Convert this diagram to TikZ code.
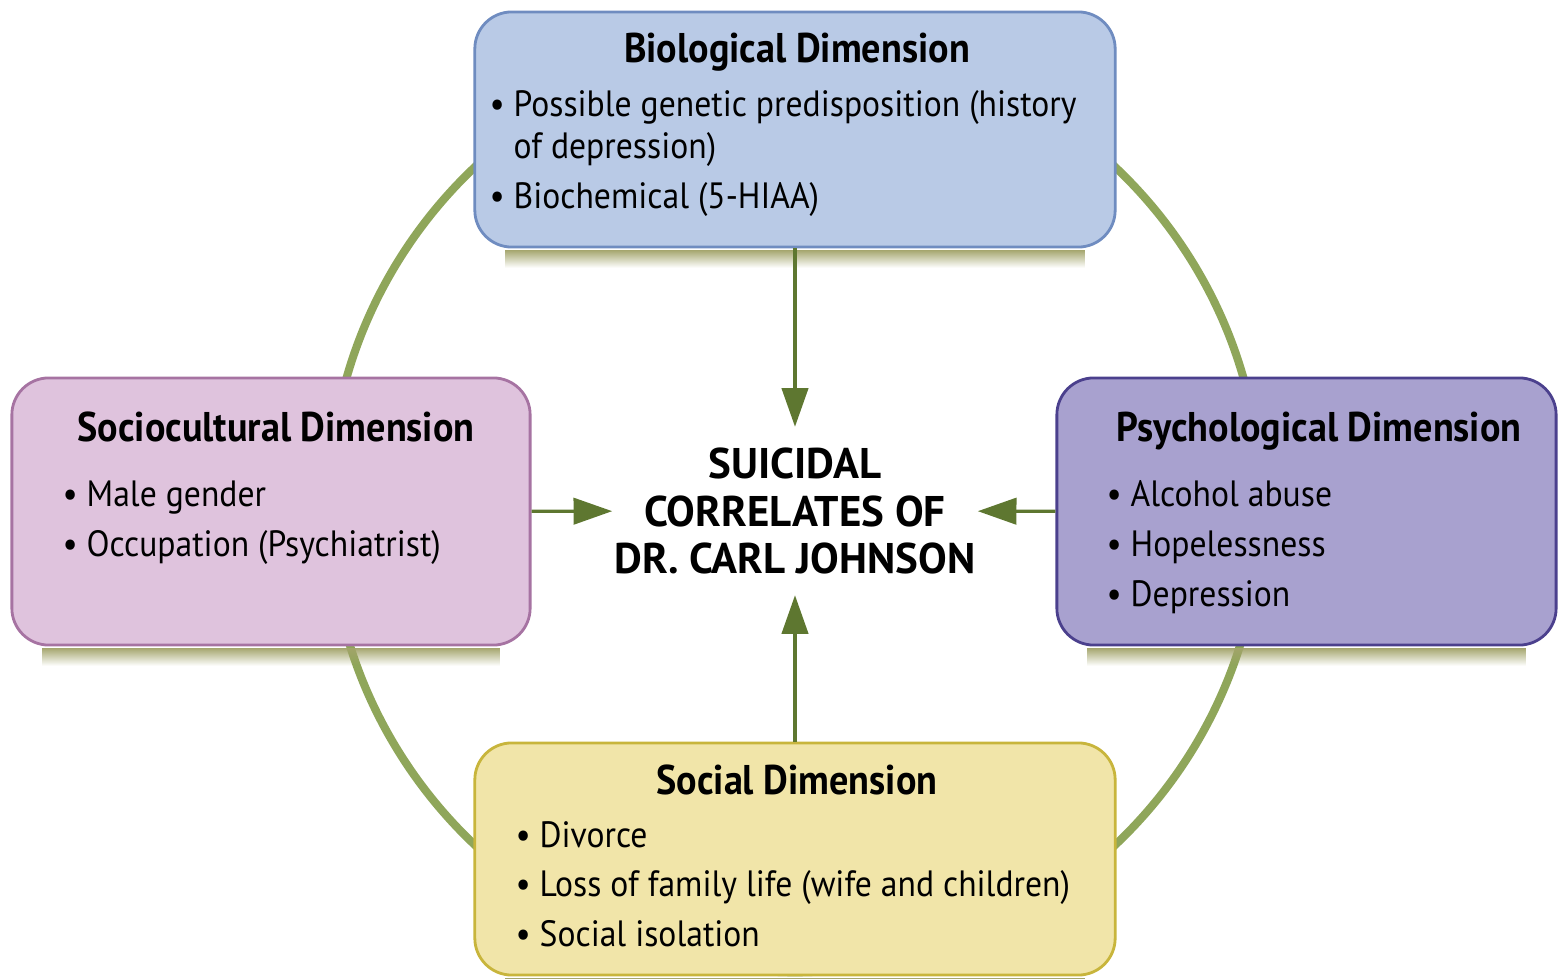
\documentclass[tikz,border=0pt]{standalone}
\usepackage{fontspec}
\setmainfont{PT Sans}[FakeStretch=0.92]
\newfontfamily\corefont{PT Sans}
\usetikzlibrary{arrows.meta,fadings}

\definecolor{ringgreen}{HTML}{8FA65A}
\definecolor{arrowgreen}{HTML}{5E7730}
\definecolor{shadegreen}{HTML}{A2A46A}
\definecolor{biofill}{HTML}{B9CAE6}
\definecolor{bioline}{HTML}{6F8CC0}
\definecolor{socfill}{HTML}{DFC3DD}
\definecolor{socline}{HTML}{A673A2}
\definecolor{psyfill}{HTML}{A8A1CF}
\definecolor{psyline}{HTML}{4B408D}
\definecolor{socialfill}{HTML}{F1E5A9}
\definecolor{socialline}{HTML}{C8B53C}

\begin{document}
\begin{tikzpicture}[x=0.01cm, y=-0.01cm,
  dimbox/.style={draw, line width=0.8pt, rounded corners=10.5pt, inner sep=0pt},
  dimtitle/.style={anchor=base, inner sep=0pt, font=\bfseries\fontsize{11.8}{14}\selectfont},
  dimitems/.style={anchor=base west, inner sep=0pt, font=\fontsize{10.4}{11.7}\selectfont},
  link/.style={draw=arrowgreen, line width=0.9pt, -{Triangle[length=11pt, width=7.5pt]}}
]
\useasboundingbox (0,0) rectangle (1559,979);

% Green ring behind the boxes
\draw[ringgreen, line width=2.3pt] (795,506) circle[radius=4.66cm];

% Centre
\node[inner sep=0pt, minimum width=3.64cm, minimum height=1.67cm, align=center,
  font=\corefont\bfseries\fontsize{12.2}{13.6}\selectfont] (core) at (795,511)
  {SUICIDAL\\CORRELATES OF\\DR. CARL JOHNSON};

% Biological
\node[dimbox, fill=biofill, draw=bioline, minimum width=6.4cm, minimum height=2.35cm] (bio) at (795,129.5) {};
\node[dimtitle] (biotitle) at (797,63) {Biological Dimension};
\node[dimitems] (bioitems) at (489,117) {\begin{tabular}[t]{@{}l@{\hspace{2.5pt}}l@{}}
  • & Possible genetic predisposition (history\\
    & of depression)\\[2.5pt]
  • & Biochemical (5-HIAA)\end{tabular}};

% Sociocultural
\node[dimbox, fill=socfill, draw=socline, minimum width=5.18cm, minimum height=2.67cm] (socio) at (271,511.5) {};
\node[dimtitle] (sociotitle) at (276,442) {Sociocultural Dimension};
\node[dimitems] (socioitems) at (62,507) {\begin{tabular}[t]{@{}l@{\hspace{2.5pt}}l@{}}
  • & Male gender\\[2.5pt]
  • & Occupation (Psychiatrist)\end{tabular}};

% Psychological
\node[dimbox, fill=psyfill, draw=psyline, minimum width=4.99cm, minimum height=2.67cm] (psych) at (1306.5,511.5) {};
\node[dimtitle] (psychtitle) at (1319,442) {Psychological Dimension};
\node[dimitems] (psychitems) at (1106,507) {\begin{tabular}[t]{@{}l@{\hspace{2.5pt}}l@{}}
  • & Alcohol abuse\\[2.5pt]
  • & Hopelessness\\[2.5pt]
  • & Depression\end{tabular}};

% Social
\node[dimbox, fill=socialfill, draw=socialline, minimum width=6.4cm, minimum height=2.32cm] (social) at (795,859) {};
\node[dimtitle] (socialtitle) at (797,795) {Social Dimension};
\node[dimitems] (socialitems) at (515,847) {\begin{tabular}[t]{@{}l@{\hspace{2.5pt}}l@{}}
  • & Divorce\\[2.5pt]
  • & Loss of family life (wife and children)\\[2.5pt]
  • & Social isolation\end{tabular}};

% Soft shadow under each box
\foreach \b in {bio,socio,psych,social}
  \fill[shadegreen, path fading=south]
    ([xshift=9pt, yshift=-0.3pt]\b.south west) rectangle ([xshift=-9pt, yshift=-5.5pt]\b.south east);

% Arrows into the centre
\draw[link] (bio) -- (core);
\draw[link] (social) -- (core);
\draw[link] (socio) -- (core);
\draw[link] (psych) -- (core);

\end{tikzpicture}
\end{document}
